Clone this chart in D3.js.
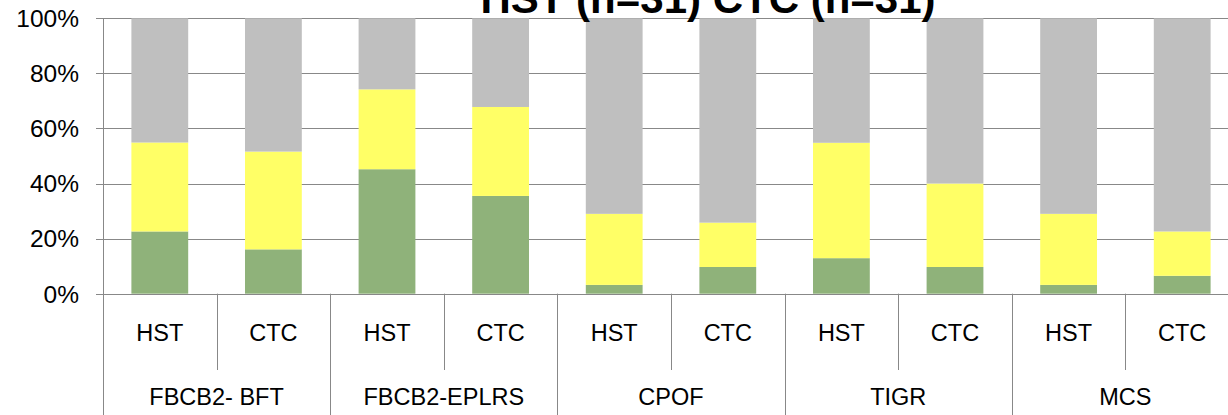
<!DOCTYPE html>
<html>
<head>
<meta charset="utf-8">
<script src="https://cdn.jsdelivr.net/npm/d3@7"></script>
<style>
  html, body { margin: 0; padding: 0; background: #fff; overflow: hidden; }
  svg { display: block; font-family: Arial, "Liberation Sans", sans-serif; }
</style>
</head>
<body>
<svg id="chart" width="1228" height="415"></svg>
<script>
// ---- data ----
const groups = ["FBCB2- BFT", "FBCB2-EPLRS", "CPOF", "TIGR", "MCS"];
const subLabels = ["HST", "CTC"];
const bars = ["FBCB2- BFT|HST", "FBCB2- BFT|CTC", "FBCB2-EPLRS|HST", "FBCB2-EPLRS|CTC",
              "CPOF|HST", "CPOF|CTC", "TIGR|HST", "TIGR|CTC", "MCS|HST", "MCS|CTC"];
const greenValues  = [22.6, 16.1, 45.2, 35.5, 3.2, 9.7, 12.9, 9.7, 3.2, 6.5];
const yellowValues = [32.3, 35.5, 29.0, 32.3, 25.8, 16.1, 41.9, 30.3, 25.8, 16.1];
const grayValues   = [45.1, 48.4, 25.8, 32.2, 71.0, 74.2, 45.2, 60.0, 71.0, 77.4];
const yTicks = [0, 20, 40, 60, 80, 100];
const titleText = "HST (n=31) CTC (n=31)";

// ---- build ----
const svg = d3.select("#chart");
const plotLeft = 103, plotRight = 1239, plotTop = 18.3, plotBottom = 293.7;

const x = d3.scaleBand().domain(bars).range([plotLeft, plotRight]).paddingInner(0.5).paddingOuter(0.25);
const y = d3.scaleLinear().domain([0, 100]).range([plotBottom, plotTop]);

const rows = bars.map((b, i) => ({ key: b, green: greenValues[i], yellow: yellowValues[i], gray: grayValues[i] }));
const stack = d3.stack().keys(["green", "yellow", "gray"]);
const series = stack(rows);
const colors = { green: "#8fb27a", yellow: "#ffff66", gray: "#bfbfbf" };

// gridlines
svg.append("g").selectAll("line").data(yTicks).join("line")
  .attr("x1", 96).attr("x2", plotRight)
  .attr("y1", d => Math.round(y(d)) + 0.5).attr("y2", d => Math.round(y(d)) + 0.5)
  .attr("stroke", "#888").attr("stroke-width", 1);

// bars
svg.append("g").selectAll("g").data(series).join("g")
  .attr("fill", s => colors[s.key])
  .selectAll("rect").data(s => s).join("rect")
  .attr("x", d => x(d.data.key))
  .attr("width", x.bandwidth())
  .attr("y", d => y(Math.min(100, d[1])))
  .attr("height", d => y(d[0]) - y(Math.min(100, d[1])));

// y axis line
svg.append("line").attr("x1", plotLeft + 0.5).attr("x2", plotLeft + 0.5)
  .attr("y1", plotTop).attr("y2", 415).attr("stroke", "#888").attr("stroke-width", 1);

// y tick labels
svg.append("g").selectAll("text").data(yTicks).join("text")
  .attr("x", 79).attr("y", d => y(d)).attr("dy", "0.36em")
  .attr("text-anchor", "end").attr("font-size", 24.5).attr("fill", "#000")
  .text(d => d + "%");

// category axis separators
const step = x.step();
const seps = d3.range(1, bars.length);
svg.append("g").selectAll("line").data(seps).join("line")
  .attr("x1", i => Math.round(plotLeft + i * step) + 0.5).attr("x2", i => Math.round(plotLeft + i * step) + 0.5)
  .attr("y1", plotBottom).attr("y2", i => i % 2 === 0 ? 415 : 370)
  .attr("stroke", "#888").attr("stroke-width", 1);

// sub labels
svg.append("g").selectAll("text").data(bars).join("text")
  .attr("x", d => x(d) + x.bandwidth() / 2).attr("y", 333).attr("dy", "0.35em")
  .attr("text-anchor", "middle").attr("font-size", 23.5).attr("fill", "#000")
  .text(d => d.split("|")[1]);

// group labels
svg.append("g").selectAll("text").data(groups).join("text")
  .attr("x", (g, i) => plotLeft + (2 * i + 1) * step).attr("y", 397).attr("dy", "0.35em")
  .attr("text-anchor", "middle").attr("font-size", 23.5).attr("fill", "#000")
  .text(g => g);

// title
svg.append("text").attr("x", 708).attr("y", 12.5)
  .attr("text-anchor", "middle").attr("font-size", 42).attr("font-weight", "bold")
  .attr("fill", "#000").text(titleText);
</script>
</body>
</html>
